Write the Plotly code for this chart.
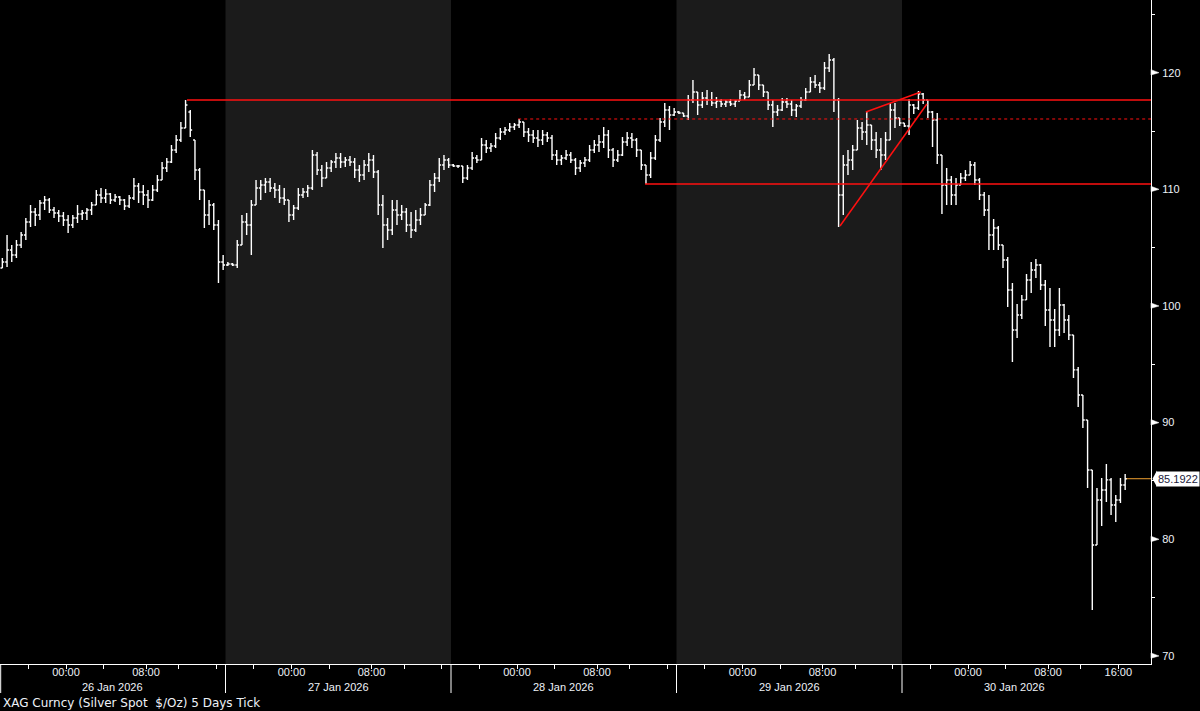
import plotly.graph_objects as go

# ---------------- data (30-minute OHLC bars, 48 per session) ----------------
dates = ["26 Jan 2026", "27 Jan 2026", "28 Jan 2026", "29 Jan 2026", "30 Jan 2026"]
bars_per_day = 48

opens = [
    # 26 Jan
    103.25, 103.77, 104.80, 104.37, 105.23, 106.09, 107.20, 108.06, 107.80, 108.83, 109.09, 108.23,
    107.97, 107.71, 107.37, 106.94, 107.54, 107.89, 107.97, 108.23, 108.66, 109.51, 109.26, 109.60,
    109.09, 109.34, 109.09, 108.57, 109.26, 110.29, 109.77, 109.51, 109.09, 109.94, 110.80, 111.83,
    112.34, 113.37, 114.23, 115.26, 116.63, 114.23, 111.66, 109.94, 107.80, 108.66, 106.94, 103.77,
    # 27 Jan
    103.51, 103.60, 103.51, 105.23, 107.20, 106.94, 108.66, 110.11, 110.37, 110.63, 110.11, 109.94,
    109.26, 109.09, 107.80, 108.40, 109.51, 109.77, 110.11, 112.94, 111.66, 110.97, 111.83, 112.34,
    112.69, 112.34, 112.52, 112.34, 111.66, 111.23, 112.09, 112.52, 111.49, 108.66, 106.94, 106.52,
    108.23, 107.80, 108.06, 106.94, 106.52, 107.37, 107.80, 108.66, 110.37, 110.97, 112.09, 112.52,
    # 28 Jan
    112.09, 112.00, 112.00, 110.97, 111.83, 112.69, 112.52, 113.80, 113.54, 113.71, 114.40, 114.91,
    115.09, 115.34, 115.51, 115.77, 114.91, 114.66, 114.40, 114.23, 114.66, 114.40, 112.94, 112.52,
    112.69, 112.94, 112.52, 111.83, 112.26, 112.52, 113.37, 113.80, 114.06, 114.66, 113.37, 112.52,
    112.94, 114.06, 114.40, 114.23, 113.37, 112.09, 111.23, 112.69, 114.23, 115.77, 116.80, 116.37,
    # 29 Jan
    116.63, 116.54, 116.29, 117.66, 118.34, 117.23, 117.83, 117.66, 117.40, 117.57, 117.31, 117.49,
    117.31, 117.57, 118.09, 117.91, 118.94, 119.80, 118.94, 118.34, 117.23, 116.63, 116.80, 117.49,
    117.31, 116.80, 117.14, 117.66, 118.34, 119.20, 118.94, 118.69, 120.40, 121.09, 117.66, 109.51,
    112.09, 112.52, 113.37, 115.26, 114.91, 115.51, 114.23, 113.37, 112.94, 114.23, 116.80, 116.11,
    # 30 Jan
    115.69, 115.43, 117.23, 116.97, 118.17, 117.66, 116.63, 115.94, 112.94, 110.37, 110.80, 109.51,
    110.37, 110.97, 111.23, 112.09, 110.80, 109.51, 108.23, 106.09, 106.69, 105.23, 103.94, 101.37,
    97.94, 99.23, 100.52, 102.23, 103.09, 103.51, 101.80, 99.66, 98.80, 97.94, 100.09, 98.80,
    97.51, 94.52, 92.37, 90.23, 85.94, 79.51, 83.37, 84.23, 85.09, 82.94, 83.37, 84.66,
]

highs = [
    # 26 Jan
    104.11, 106.09, 105.23, 105.66, 106.34, 107.54, 108.66, 108.40, 109.09, 109.43, 109.26, 108.49,
    108.23, 108.06, 107.80, 107.80, 108.66, 108.23, 108.40, 108.91, 109.94, 110.11, 110.03, 109.69,
    109.60, 109.43, 109.17, 109.51, 110.97, 110.54, 110.37, 109.94, 110.37, 111.23, 112.34, 112.69,
    113.80, 114.66, 115.77, 117.66, 116.80, 114.23, 111.83, 109.94, 109.09, 108.83, 107.37, 104.37,
    # 27 Jan
    103.77, 103.69, 105.66, 107.80, 107.97, 109.09, 110.80, 110.80, 110.97, 110.97, 110.54, 110.37,
    110.11, 109.09, 108.66, 110.11, 110.11, 110.37, 113.37, 113.20, 112.09, 112.34, 112.52, 113.11,
    113.11, 112.77, 112.86, 112.69, 112.09, 112.52, 113.11, 112.94, 111.66, 109.51, 107.54, 109.09,
    109.09, 108.66, 108.40, 108.06, 108.23, 108.40, 108.83, 110.80, 111.40, 112.69, 112.94, 112.69,
    # 28 Jan
    112.17, 112.09, 112.00, 112.09, 113.20, 112.94, 114.40, 114.23, 113.97, 114.83, 115.26, 115.34,
    115.69, 115.69, 116.03, 115.77, 115.26, 115.09, 115.09, 115.09, 114.91, 114.66, 113.37, 112.94,
    113.37, 113.20, 112.69, 112.52, 112.77, 113.80, 114.23, 114.66, 115.34, 115.09, 113.54, 113.37,
    114.49, 114.91, 114.83, 114.40, 113.37, 112.09, 113.20, 114.66, 116.11, 117.40, 117.14, 116.97,
    # 29 Jan
    116.71, 116.54, 118.09, 119.37, 118.34, 118.34, 118.52, 118.34, 117.91, 117.74, 117.66, 117.74,
    117.66, 118.52, 118.34, 119.37, 120.40, 119.80, 118.94, 118.34, 117.66, 117.23, 117.83, 117.83,
    117.66, 117.31, 117.91, 118.69, 119.63, 119.80, 119.20, 120.91, 121.60, 121.26, 117.83, 112.94,
    113.37, 113.80, 115.94, 115.77, 116.63, 115.51, 114.91, 114.40, 114.91, 117.40, 117.40, 116.11,
    # 30 Jan
    115.69, 117.74, 117.31, 118.43, 118.26, 117.66, 116.71, 116.54, 112.94, 111.83, 111.14, 110.97,
    111.40, 111.66, 112.43, 112.34, 110.97, 109.77, 109.51, 107.46, 106.86, 105.23, 104.20, 101.97,
    100.17, 100.94, 102.74, 103.77, 104.03, 103.60, 102.23, 101.54, 99.74, 101.54, 100.17, 99.23,
    97.51, 94.77, 92.37, 90.23, 85.94, 84.40, 85.26, 86.46, 85.26, 83.80, 85.26, 85.60,
]

lows = [
    # 26 Jan
    103.25, 103.34, 103.77, 104.11, 104.97, 105.66, 106.77, 106.86, 107.37, 108.23, 107.97, 107.54,
    107.20, 106.86, 106.26, 106.69, 107.11, 107.37, 107.37, 107.80, 108.66, 108.83, 108.83, 108.74,
    108.91, 108.66, 108.23, 108.40, 109.09, 108.83, 108.66, 108.40, 109.00, 109.77, 110.80, 111.49,
    112.26, 113.11, 114.06, 115.26, 114.49, 110.80, 109.09, 106.69, 106.94, 106.52, 101.97, 103.09,
    # 27 Jan
    103.43, 103.43, 103.25, 105.23, 106.09, 104.37, 108.66, 109.09, 109.69, 109.77, 109.26, 108.83,
    108.66, 107.20, 107.37, 108.23, 109.26, 109.34, 109.94, 111.23, 110.20, 110.97, 111.49, 111.83,
    111.83, 111.91, 112.00, 110.97, 110.63, 110.80, 111.49, 110.97, 107.80, 104.97, 105.66, 106.09,
    106.94, 107.37, 106.34, 105.83, 106.34, 106.94, 107.80, 108.57, 109.77, 110.63, 111.66, 111.83,
    # 28 Jan
    111.91, 111.83, 110.54, 110.80, 111.66, 112.26, 112.52, 113.11, 113.20, 113.54, 114.23, 114.66,
    114.91, 115.09, 115.26, 114.49, 114.06, 113.97, 113.63, 113.80, 114.06, 112.52, 112.09, 112.09,
    112.52, 112.26, 111.23, 111.49, 111.91, 112.34, 113.11, 113.20, 113.54, 112.69, 111.91, 112.34,
    112.86, 113.71, 113.54, 112.77, 111.66, 110.46, 110.97, 112.52, 114.06, 115.34, 115.09, 116.29,
    # 29 Jan
    116.46, 116.20, 115.94, 117.40, 116.37, 116.97, 117.23, 117.14, 116.97, 117.06, 117.06, 117.14,
    117.06, 117.57, 117.66, 117.91, 118.94, 118.52, 117.91, 116.80, 115.34, 116.29, 116.71, 116.97,
    116.29, 116.20, 116.97, 117.57, 118.34, 118.69, 118.26, 118.52, 120.06, 116.63, 106.77, 107.80,
    111.23, 111.66, 113.37, 114.23, 113.80, 113.37, 112.69, 111.66, 112.52, 114.23, 115.26, 115.43,
    # 30 Jan
    115.34, 114.66, 116.46, 116.80, 117.31, 116.11, 113.63, 112.17, 107.89, 108.66, 108.66, 108.66,
    110.37, 110.71, 111.23, 110.37, 109.09, 107.71, 104.80, 104.80, 104.80, 103.25, 99.92, 95.20,
    97.26, 98.89, 100.52, 101.11, 102.40, 101.37, 98.29, 96.49, 96.49, 97.43, 97.69, 97.09,
    93.83, 91.34, 89.54, 84.40, 73.94, 79.51, 81.14, 83.20, 82.09, 81.49, 83.11, 84.23,
]

closes = [
    # 26 Jan
    103.77, 104.80, 104.37, 105.23, 106.09, 107.20, 108.06, 107.80, 108.83, 109.09, 108.23, 107.97,
    107.71, 107.37, 106.94, 107.54, 107.89, 107.97, 108.23, 108.66, 109.51, 109.26, 109.60, 109.09,
    109.34, 109.09, 108.57, 109.26, 110.29, 109.77, 109.51, 109.09, 109.94, 110.80, 111.83, 112.34,
    113.37, 114.23, 115.26, 117.23, 115.09, 111.66, 109.94, 107.80, 108.66, 106.94, 103.77, 103.51,
    # 27 Jan
    103.60, 103.51, 105.23, 107.20, 106.94, 108.66, 110.11, 110.37, 110.63, 110.11, 109.94, 109.26,
    109.09, 107.80, 108.40, 109.51, 109.77, 110.11, 112.94, 111.66, 110.97, 111.83, 112.34, 112.69,
    112.34, 112.52, 112.34, 111.66, 111.23, 112.09, 112.52, 111.49, 108.66, 106.94, 106.52, 108.23,
    107.80, 108.06, 106.94, 106.52, 107.37, 107.80, 108.66, 110.37, 110.97, 112.09, 112.52, 112.09,
    # 28 Jan
    112.00, 112.00, 110.97, 111.83, 112.69, 112.52, 113.80, 113.54, 113.71, 114.40, 114.91, 115.09,
    115.34, 115.51, 115.77, 114.91, 114.66, 114.40, 114.23, 114.66, 114.40, 112.94, 112.52, 112.69,
    112.94, 112.52, 111.83, 112.26, 112.52, 113.37, 113.80, 114.06, 114.66, 113.37, 112.52, 112.94,
    114.06, 114.40, 114.23, 113.37, 112.09, 111.23, 112.69, 114.23, 115.77, 116.80, 116.37, 116.63,
    # 29 Jan
    116.54, 116.29, 117.66, 118.34, 117.23, 117.83, 117.66, 117.40, 117.57, 117.31, 117.49, 117.31,
    117.57, 118.09, 117.91, 118.94, 119.80, 118.94, 118.34, 117.23, 116.63, 116.80, 117.49, 117.31,
    116.80, 117.14, 117.66, 118.34, 119.20, 118.94, 118.69, 120.40, 121.09, 117.66, 109.51, 112.09,
    112.52, 113.37, 115.26, 114.91, 115.51, 114.23, 113.37, 112.94, 114.23, 116.80, 116.11, 115.69,
    # 30 Jan
    115.43, 117.23, 116.97, 118.17, 117.66, 116.63, 115.94, 112.94, 110.37, 110.80, 109.51, 110.37,
    110.97, 111.23, 112.09, 110.80, 109.51, 108.23, 106.09, 106.69, 105.23, 103.94, 101.37, 97.94,
    99.23, 100.52, 102.23, 103.09, 103.51, 101.80, 99.66, 98.80, 97.94, 100.09, 98.80, 97.51,
    94.52, 92.37, 90.23, 85.94, 79.51, 83.37, 84.23, 85.09, 82.94, 83.37, 84.66, 85.1922,
]

last_price = 85.1922
last_price_text = "85.1922"

# time-axis ticks inside each session (bar units from session start)
session_tick_pos = [5.46, 13.55, 21.53, 30.58, 37.5, 45.54]
session_tick_time = ["20:00", "00:00", "04:00", "08:00", "12:00", "16:00"]
labelled_times = ["00:00", "08:00"]
last_day_extra_label = "16:00"

# price axis
price_ticks = [70, 80, 90, 100, 110, 120]
price_minor = [75, 85, 95, 105, 115, 125]
y_range = [69.31, 126.23]
x_range = [-0.5, 244.5]

# drawn studies (bar index, price)
resistance = dict(x0=39.3, y=117.66)
support = dict(x0=136.8, y=110.46)
dotted_level = dict(x0=109.8, y=116.03)
trend_lines = [
    ((178.3, 106.86), (196.8, 117.31)),
    ((183.8, 116.63), (195.5, 118.34)),
]
footer = "XAG Curncy (Silver Spot  $/Oz) 5 Days Tick"

# ---------------- figure ----------------
n = len(opens)
xs = list(range(n))

fig = go.Figure(go.Ohlc(
    x=xs, open=opens, high=highs, low=lows, close=closes,
    increasing=dict(line=dict(color="white", width=1.4)),
    decreasing=dict(line=dict(color="white", width=1.4)),
    tickwidth=0.4, hoverinfo="skip",
))

ndays = len(dates)
span = x_range[1] - x_range[0]


def xp(v):
    return (v - x_range[0]) / span


shapes = []
# alternating session shading
for d in range(ndays):
    if d % 2 == 1:
        shapes.append(dict(type="rect", xref="x", yref="paper",
                           x0=d * bars_per_day - 0.5, x1=(d + 1) * bars_per_day - 0.5,
                           y0=0, y1=1, fillcolor="#1b1b1b", line=dict(width=0), layer="below"))
# session separators below axis
for d in range(ndays):
    xv = max(xp(d * bars_per_day - 0.5), 0.0006)
    shapes.append(dict(type="line", xref="paper", yref="paper", x0=xv, x1=xv,
                       y0=0, y1=-29 / 664, line=dict(color="white", width=1)))

# red studies
red = "#ff1010"
shapes.append(dict(type="line", xref="x", yref="y", x0=resistance["x0"], x1=x_range[1],
                   y0=resistance["y"], y1=resistance["y"], line=dict(color=red, width=1.5)))
shapes.append(dict(type="line", xref="x", yref="y", x0=support["x0"], x1=x_range[1],
                   y0=support["y"], y1=support["y"], line=dict(color=red, width=1.5)))
shapes.append(dict(type="line", xref="x", yref="y", x0=dotted_level["x0"], x1=x_range[1],
                   y0=dotted_level["y"], y1=dotted_level["y"],
                   line=dict(color=red, width=1, dash="3px,3px")))
for (a, b) in trend_lines:
    shapes.append(dict(type="line", xref="x", yref="y", x0=a[0], y0=a[1], x1=b[0], y1=b[1],
                       line=dict(color=red, width=1.5)))

# last price line
shapes.append(dict(type="line", xref="x", yref="y", x0=n - 1 + 0.3, x1=x_range[1],
                   y0=last_price, y1=last_price, line=dict(color="#f0a030", width=1)))

# flags at major price ticks
px = 1 / 1151.0
for v in price_ticks:
    shapes.append(dict(type="path", xref="paper", yref="y",
                       path=f"M 1,{v + 0.26} L {1 + 8 * px},{v} L 1,{v - 0.2} Z",
                       fillcolor="white", line=dict(color="white", width=0.5)))
# arrow of last price box
shapes.append(dict(type="path", xref="paper", yref="y",
                   path=f"M {1 + 1.5 * px},{last_price} L {1 + 6 * px},{last_price + 0.7} "
                        f"L {1 + 6 * px},{last_price - 0.7} Z",
                   fillcolor="white", line=dict(width=0)))

# x ticks
tickvals, ticktext = [], []
for d in range(ndays):
    for pos, t in zip(session_tick_pos, session_tick_time):
        tickvals.append(d * bars_per_day + pos)
        show = t in labelled_times or (d == ndays - 1 and t == last_day_extra_label)
        ticktext.append(t if show else "")

annotations = []
for d, lab in enumerate(dates):
    annotations.append(dict(text=lab, xref="paper", yref="paper",
                            x=xp(d * bars_per_day + 23.5), y=0, xanchor="center", yanchor="middle",
                            yshift=-23, showarrow=False,
                            font=dict(family="Liberation Sans", size=11, color="#eef2f8")))
annotations.append(dict(text=footer, xref="paper", yref="paper", x=0, y=0,
                        xanchor="left", yanchor="middle", xshift=1, yshift=-39, showarrow=False,
                        font=dict(family="DejaVu Sans", size=12, color="#eef2f8")))
annotations.append(dict(text=last_price_text, xref="paper", yref="y", x=1, y=last_price,
                        xanchor="left", yanchor="middle", xshift=5, showarrow=False,
                        bgcolor="white", borderpad=1,
                        font=dict(family="Liberation Sans", size=11, color="#1a1a3a")))

tick_font = dict(family="Liberation Sans", size=11, color="#eef2f8")
fig.update_layout(
    width=1200, height=711,
    margin=dict(l=0, r=49, t=0, b=47, autoexpand=False),
    paper_bgcolor="black", plot_bgcolor="black",
    showlegend=False, hovermode=False,
    shapes=shapes, annotations=annotations,
    xaxis=dict(range=x_range, rangeslider=dict(visible=False), showgrid=False, zeroline=False,
               showline=True, linecolor="white", linewidth=1,
               ticks="outside", ticklen=4, tickcolor="white", tickwidth=1,
               ticklabelstandoff=-6,
               tickmode="array", tickvals=tickvals, ticktext=ticktext, tickfont=tick_font,
               fixedrange=True),
    yaxis=dict(side="right", range=y_range, showgrid=False, zeroline=False,
               showline=True, linecolor="white", linewidth=1,
               tickmode="array", tickvals=price_ticks, ticktext=[str(v) for v in price_ticks],
               ticks="outside", ticklen=8, tickcolor="rgba(0,0,0,0)", tickfont=tick_font,
               minor=dict(tickmode="array", tickvals=price_minor, ticks="outside", ticklen=3,
                          tickcolor="white", tickwidth=1),
               fixedrange=True),
)

fig.write_html(
    "out.html",
    config={"displayModeBar": False},
    post_script="document.body.style.margin='0px';document.body.style.padding='0px';"
                "document.body.style.background='black';",
)
